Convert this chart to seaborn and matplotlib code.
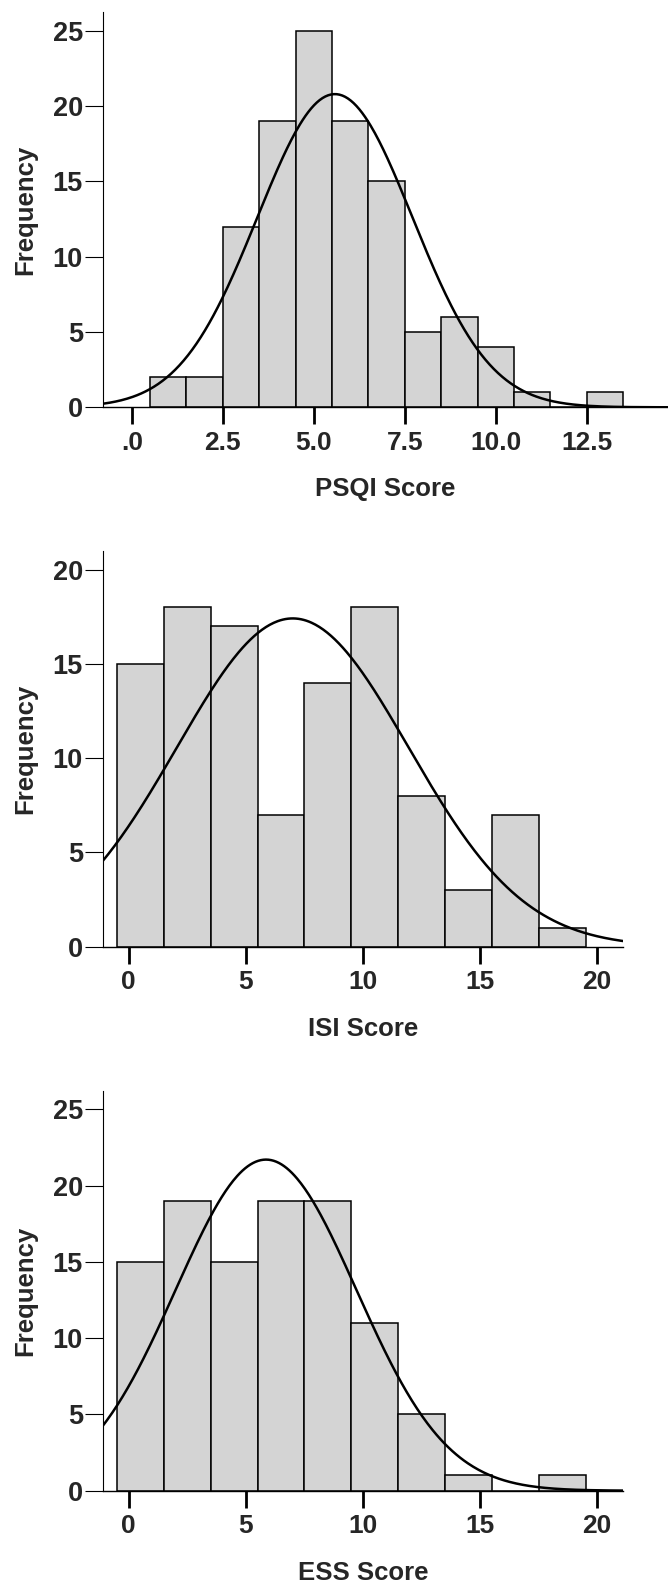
import numpy as np
import pandas as pd
import seaborn as sns
import matplotlib as mpl
mpl.use('Agg')
import matplotlib.pyplot as plt
import matplotlib.transforms as mtransforms

#=====================================================
# bin centres and frequencies
psqi_centers = [1, 2, 3, 4, 5, 6, 7, 8, 9, 10, 11, 12, 13]
psqi_counts = [2, 2, 12, 19, 25, 19, 15, 5, 6, 4, 1, 0, 1]
isi_centers = [0.5, 2.5, 4.5, 6.5, 8.5, 10.5, 12.5, 14.5, 16.5, 18.5]
isi_counts = [15, 18, 17, 7, 14, 18, 8, 3, 7, 1]
ess_centers = [0.5, 2.5, 4.5, 6.5, 8.5, 10.5, 12.5, 14.5, 16.5, 18.5]
ess_counts = [15, 19, 15, 19, 19, 11, 5, 1, 0, 1]

# fitted normal curve (mean, sd)
psqi_fit = (5.58, 2.13)
isi_fit = (7.0, 4.95)
ess_fit = (5.86, 3.86)

psqi_xticks = [0, 2.5, 5, 7.5, 10, 12.5]
psqi_xlabels = ['.0', '2.5', '5.0', '7.5', '10.0', '12.5']
isi_xticks = [0, 5, 10, 15, 20]
ess_xticks = [0, 5, 10, 15, 20]
#=====================================================
sns.set_style('white')
plt.rcParams['font.family'] = ['Liberation Sans', 'DejaVu Sans']
plt.rcParams['font.weight'] = 'bold'

fig = plt.figure(figsize=(6.68, 15.8), dpi=100)

def panel(rect, centers, counts, width, fit, xlim, ylim, xticks, xlabels, yticks, xlabel):
    ax = fig.add_axes(rect)
    df = pd.DataFrame({'score': np.repeat(centers, counts)})
    edges = np.arange(centers[0] - width / 2.0, centers[-1] + width, width)
    sns.histplot(data=df, x='score', bins=edges, color='#d4d4d4', edgecolor='black',
                 linewidth=1.1, alpha=1, ax=ax)
    # normal curve scaled to frequency
    mu, sd = fit
    n = float(np.sum(counts))
    xs = np.linspace(xlim[0], xlim[1], 400)
    ys = n * width * np.exp(-0.5 * ((xs - mu) / sd) ** 2) / (sd * np.sqrt(2 * np.pi))
    sns.lineplot(x=xs, y=ys, color='black', linewidth=1.8, ax=ax)
    ax.set_xlim(xlim)
    ax.set_ylim(ylim)
    ax.set_xticks(xticks)
    ax.set_xticklabels(xlabels)
    ax.set_yticks(yticks)
    for s in ['top', 'right']:
        ax.spines[s].set_visible(False)
    ax.spines['left'].set_linewidth(0.8)
    ax.spines['bottom'].set_linewidth(1.0)
    ax.spines['left'].set_color('black')
    ax.spines['bottom'].set_color('black')
    ax.tick_params(axis='x', direction='out', length=12, width=2, pad=5,
                   labelsize=19, bottom=True, color='black')
    ax.tick_params(axis='y', direction='out', length=13, width=0.8, pad=1.5,
                   labelsize=19.5, left=True, color='black')
    for lab in ax.get_xticklabels() + ax.get_yticklabels():
        lab.set_fontweight('bold')
    ax.set_xlabel(xlabel, fontsize=18.5, fontweight='bold')
    ax.set_ylabel('Frequency', fontsize=18.5, fontweight='bold')
    ax.xaxis.set_label_coords(0.5, 0, transform=ax.transAxes +
                              mtransforms.ScaledTranslation(0, -0.70, fig.dpi_scale_trans))
    ax.yaxis.set_label_coords(37 / 668.0, 0.5, transform=mtransforms.blended_transform_factory(
        fig.transFigure, ax.transAxes))
    return ax

panel([103 / 668., 1 - 407.3 / 1580., 565 / 668., 395.6 / 1580.], psqi_centers, psqi_counts, 1,
      psqi_fit, (-0.79, 14.73), (0, 26.26), psqi_xticks, psqi_xlabels, [0, 5, 10, 15, 20, 25],
      'PSQI Score')
panel([103 / 668., 1 - 946.7 / 1580., 520 / 668., 396 / 1580.], isi_centers, isi_counts, 2,
      isi_fit, (-1.1, 21.1), (0, 21.0), isi_xticks, [str(t) for t in isi_xticks], [0, 5, 10, 15, 20],
      'ISI Score')
panel([103 / 668., 1 - 1490.7 / 1580., 520 / 668., 400 / 1580.], ess_centers, ess_counts, 2,
      ess_fit, (-1.1, 21.1), (0, 26.22), ess_xticks, [str(t) for t in ess_xticks], [0, 5, 10, 15, 20, 25],
      'ESS Score')

plt.savefig('out.png', dpi=100)
